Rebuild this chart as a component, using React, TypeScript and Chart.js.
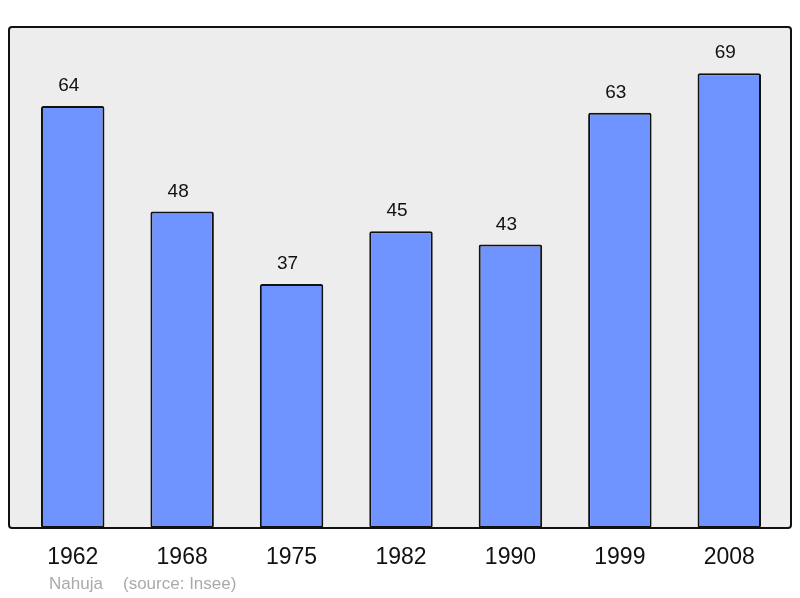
import { useEffect, useRef } from "react";
import { Chart, registerables } from "chart.js";

Chart.register(...registerables);

const years = ["1962", "1968", "1975", "1982", "1990", "1999", "2008"];
const population = [64, 48, 37, 45, 43, 63, 69];
const footerAuthor = "Nahuja";
const footerSource = "(source: Insee)";

const FONT = '"Liberation Sans", Arial, sans-serif';

const framePlugin = {
  id: "frame",
  beforeDatasetsDraw(chart: any) {
    const { ctx } = chart;
    ctx.save();
    ctx.fillStyle = "#ededed";
    ctx.beginPath();
    ctx.roundRect(9, 27, 782, 501, 3);
    ctx.fill();
    ctx.restore();
  },
  afterDatasetsDraw(chart: any) {
    const { ctx, scales } = chart;
    const x = scales.x;
    const y = scales.y;
    ctx.save();
    ctx.strokeStyle = "#111";
    ctx.lineWidth = 2;
    ctx.beginPath();
    ctx.roundRect(9, 27, 782, 501, 3);
    ctx.stroke();

    ctx.fillStyle = "#111";
    ctx.textAlign = "center";
    ctx.textBaseline = "alphabetic";
    ctx.font = `19px ${FONT}`;
    population.forEach((v, i) => {
      ctx.fillText(String(v), x.getPixelForValue(i) - 4, y.getPixelForValue(v) - 15);
    });

    ctx.font = `23px ${FONT}`;
    years.forEach((yr, i) => {
      ctx.fillText(yr, x.getPixelForValue(i), 564);
    });

    ctx.fillStyle = "#aaaaaa";
    ctx.textAlign = "left";
    ctx.font = `17px ${FONT}`;
    ctx.fillText(footerAuthor, 49, 589);
    ctx.fillText(footerSource, 123, 589);
    ctx.restore();
  },
};

export default function App() {
  const canvasRef = useRef<HTMLCanvasElement | null>(null);

  useEffect(() => {
    if (!canvasRef.current) return;
    const chart = new Chart(canvasRef.current, {
      type: "bar",
      data: {
        labels: years,
        datasets: [
          {
            data: population,
            backgroundColor: "#7094ff",
            borderColor: "#111",
            borderWidth: 2,
            borderRadius: 2,
            borderSkipped: false,
            barPercentage: 0.58,
            categoryPercentage: 1,
          },
        ],
      },
      options: {
        responsive: false,
        animation: false,
        layout: { padding: { left: 18, right: 16, top: 27, bottom: 70 } },
        plugins: {
          legend: { display: false },
          tooltip: { enabled: false },
        },
        scales: {
          x: { display: false },
          y: { display: false, min: 0, max: 76 },
        },
      },
      plugins: [framePlugin],
    });
    return () => chart.destroy();
  }, []);

  return (
    <div style={{ position: "fixed", left: 0, top: 0, width: 800, height: 598, background: "#fff" }}>
      <canvas ref={canvasRef} width={800} height={598} />
    </div>
  );
}
